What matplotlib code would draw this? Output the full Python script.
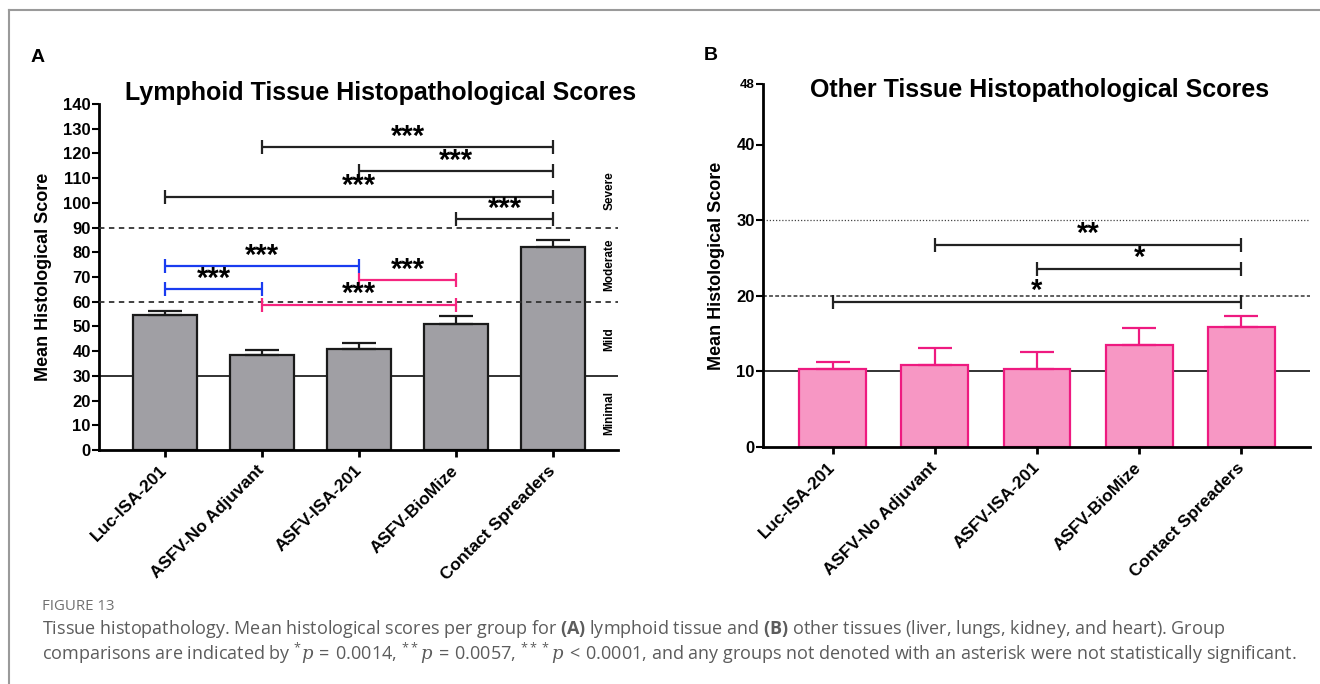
import numpy as np
import matplotlib
matplotlib.use('Agg')
import matplotlib.pyplot as plt

# 组别
groups = ['Luc-ISA-201', 'ASFV-No Adjuvant', 'ASFV-ISA-201', 'ASFV-BioMize', 'Contact Spreaders']

# A: 淋巴组织评分 (均值, SEM)
lymph_mean = [54.5, 38.5, 40.8, 51.0, 82.0]
lymph_err = [1.7, 2.1, 2.6, 3.3, 3.0]
# A 显著性比较 (起始组, 终止组, 高度, 星号, 颜色)
lymph_sig_i = [1, 2, 0, 3, 0, 0, 2, 1]
lymph_sig_j = [4, 4, 4, 4, 2, 1, 3, 3]
lymph_sig_y = [122.4, 112.8, 102.4, 93.3, 74.4, 65.0, 68.6, 58.7]
lymph_sig_txt = ['***'] * 8
lymph_sig_col = ['#222222'] * 4 + ['#1a3cf0', '#1a3cf0', '#f5257f', '#f5257f']
lymph_ticks = [0, 10, 20, 30, 40, 50, 60, 70, 80, 90, 100, 110, 120, 130, 140]
lymph_grades = ['Minimal', 'Mild', 'Moderate', 'Severe']
lymph_grade_y = [15, 45, 75, 105]

# B: 其他组织评分
other_mean = [10.3, 10.9, 10.3, 13.5, 15.9]
other_err = [0.9, 2.2, 2.3, 2.3, 1.4]
other_sig_i = [1, 2, 0]
other_sig_j = [4, 4, 4]
other_sig_y = [26.7, 23.5, 19.2]
other_sig_txt = ['**', '*', '*']
other_ticks = [0, 10, 20, 30, 40, 48]

W, H = 1320, 684
fig = plt.figure(figsize=(W / 100, H / 100), dpi=100)
plt.rcParams['font.family'] = ['Liberation Sans', 'DejaVu Sans']


def style_axes(ax, ticks, ymax):
    x = np.arange(len(groups))
    ax.set_xlim(-0.68, 4.67)
    ax.set_ylim(0, ymax)
    for s in ['top', 'right']:
        ax.spines[s].set_visible(False)
    for s in ['left', 'bottom']:
        ax.spines[s].set_linewidth(2)
    ax.set_yticks(ticks)
    ax.set_xticks(x)
    ax.set_xticklabels(groups, rotation=45, ha='right', va='center',
                       rotation_mode='anchor', fontsize=12.5, fontweight='bold')
    ax.tick_params(axis='x', length=5, width=2, pad=8)
    ax.tick_params(axis='y', length=5, width=1.5, pad=1, labelsize=12)
    for lab in ax.get_yticklabels():
        lab.set_fontweight('bold')
    ax.set_ylabel('Mean Histological Score', fontsize=13, fontweight='bold', labelpad=8)


def draw_sig(ax, si, sj, sy, txt, cols, dy, fs):
    for i, j, y, t, c in zip(si, sj, sy, txt, cols):
        ax.plot([i, j], [y, y], color=c, lw=1.6, marker='|', markersize=10,
                mew=1.6, solid_capstyle='butt', zorder=5, clip_on=False)
        ax.text((i + j) / 2, y + dy, t, ha='center', va='center',
                fontsize=fs, fontweight='bold', color='black', zorder=6)


# ---------- A ----------
axA = fig.add_axes([99 / W, 1 - 450 / H, (618 - 99) / W, (450 - 104) / H])
xA = np.arange(len(groups))
axA.axhline(30, color='#222222', lw=1.3, zorder=1)
axA.axhline(60, color='#333333', lw=1.3, ls=(0, (3, 2.5)), zorder=4)
axA.axhline(90, color='#333333', lw=1.3, ls=(0, (3, 2.5)), zorder=4)
axA.bar(xA, lymph_mean, width=0.655, color='#a09fa4', edgecolor='#1a1a1a', lw=1.6, zorder=2)
axA.errorbar(xA, lymph_mean, yerr=[np.zeros(5), lymph_err], fmt='none', ecolor='#1a1a1a',
             elinewidth=1.6, capsize=12, capthick=1.6, zorder=3)
style_axes(axA, lymph_ticks, 140)
draw_sig(axA, lymph_sig_i, lymph_sig_j, lymph_sig_y, lymph_sig_txt, lymph_sig_col, 4.3, 21)
for g, gy in zip(lymph_grades, lymph_grade_y):
    axA.text(4.58, gy, g, rotation=90, ha='center', va='center', fontsize=8.5, fontweight='bold')
fig.text(381 / W, 1 - 93 / H, 'Lymphoid Tissue Histopathological Scores', ha='center', va='center',
         fontsize=18, fontweight='bold')
fig.text(38 / W, 1 - 57 / H, 'A', ha='center', va='center', fontsize=14, fontweight='bold')

# ---------- B ----------
axB = fig.add_axes([763 / W, 1 - 447 / H, (1310 - 763) / W, (447 - 84) / H])
axB.axhline(10, color='#222222', lw=1.3, zorder=1)
axB.axhline(20, color='#333333', lw=1.1, ls=(0, (2.5, 1.5)), zorder=1)
axB.axhline(30, color='#444444', lw=0.9, ls=(0, (1, 1.5)), zorder=1)
axB.bar(xA, other_mean, width=0.655, color='#f797c4', edgecolor='#ee1a80', lw=1.6, zorder=2)
axB.errorbar(xA, other_mean, yerr=[np.zeros(5), other_err], fmt='none', ecolor='#ee1a80',
             elinewidth=1.6, capsize=12, capthick=1.6, zorder=3)
style_axes(axB, other_ticks, 48)
for lab in axB.get_yticklabels():
    if lab.get_text() == '48':
        lab.set_fontsize(9.5)
draw_sig(axB, other_sig_i, other_sig_j, other_sig_y, other_sig_txt, ['#222222'] * 3, 1.5, 21)
fig.text(1040 / W, 1 - 90 / H, 'Other Tissue Histopathological Scores', ha='center', va='center',
         fontsize=18, fontweight='bold')
fig.text(711 / W, 1 - 56 / H, 'B', ha='center', va='center', fontsize=14, fontweight='bold')

# ---------- 图注 ----------
plt.rcParams['mathtext.fontset'] = 'custom'
plt.rcParams['mathtext.rm'] = 'Open Sans'
plt.rcParams['mathtext.it'] = 'DejaVu Serif:italic'
plt.rcParams['mathtext.bf'] = 'Open Sans:bold'
cap_col = '#5c5c5c'
fig.text(42 / W, 1 - 606 / H, 'FIGURE 13', ha='left', va='center', fontsize=10.8,
         color='#707070', family='Open Sans')
fig.text(42 / W, 1 - 629 / H,
         r'Tissue histopathology. Mean histological scores per group for $\mathbf{(A)}$ lymphoid tissue '
         r'and $\mathbf{(B)}$ other tissues (liver, lungs, kidney, and heart). Group',
         ha='left', va='center', fontsize=13, color=cap_col, family='Open Sans')
fig.text(42 / W, 1 - 653 / H,
         r'comparisons are indicated by $^{*}\mathit{p}\rm{\,=\,0.0014}$, $^{**}\mathit{p}\rm{\,=\,0.0057}$, '
         r'$^{***}\mathit{p}\rm{\,<\,0.0001}$, and any groups not denoted with an asterisk were not statistically significant.',
         ha='left', va='center', fontsize=13, color=cap_col, family='Open Sans')

# 外框 (上、左)
fig.add_artist(plt.Line2D([8.5 / W, 8.5 / W], [0, 1 - 10 / H], color='#9a9a9a', lw=1.5))
fig.add_artist(plt.Line2D([8.5 / W, 1], [1 - 10 / H, 1 - 10 / H], color='#9a9a9a', lw=1.5))

fig.savefig('out.png', dpi=100)
